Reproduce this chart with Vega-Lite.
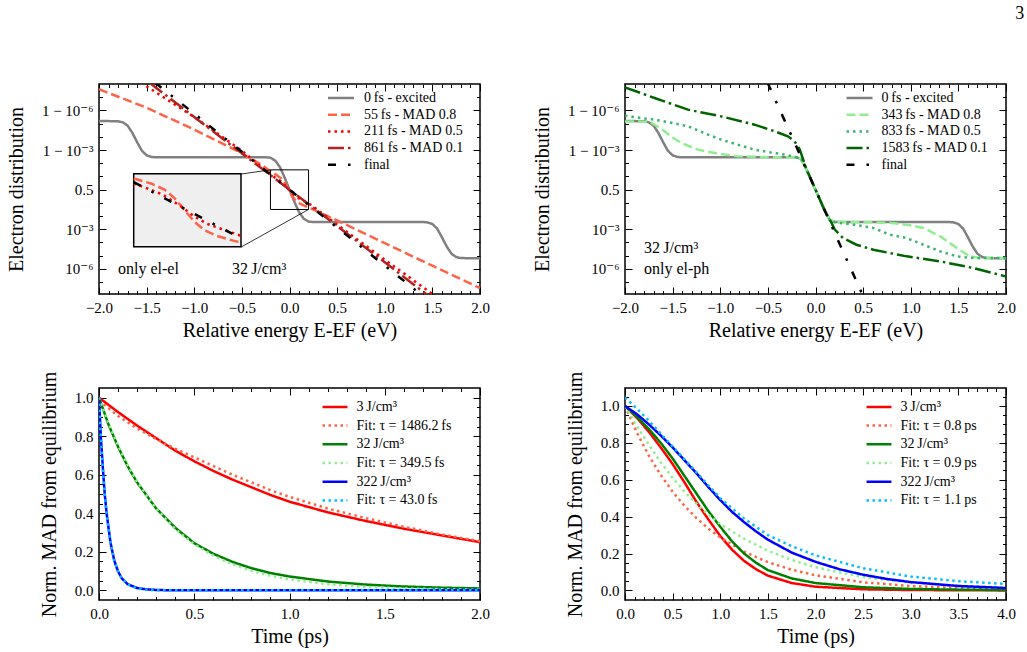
{
  "$schema": "https://vega.github.io/schema/vega-lite/v6.json",
  "padding": {"left": 5, "top": 4, "right": 10, "bottom": 8},
  "title": {"text": "3", "anchor": "end", "frame": "bounds", "font": "Liberation Serif, DejaVu Serif, Times New Roman, serif", "fontSize": 18, "fontWeight": "normal", "color": "#000", "offset": 60, "dx": 8},
  "columns": 2,
  "spacing": {"column": 145, "row": 94},
  "bounds": "flush",
  "resolve": {"scale": {"color": "independent", "strokeDash": "independent"}, "legend": {"color": "independent", "strokeDash": "independent"}},
  "config": {
    "font": "Liberation Serif, DejaVu Serif, Times New Roman, serif",
    "view": {"stroke": "#000", "strokeWidth": 1.5},
    "axis": {"grid": false, "domain": false, "labelFlush": false, "labelFont": "Liberation Serif, DejaVu Serif, Times New Roman, serif", "labelFontSize": 15, "labelColor": "#000", "titleFont": "Liberation Serif, DejaVu Serif, Times New Roman, serif", "titleFontSize": 20, "titleFontWeight": "normal", "titleColor": "#000", "tickColor": "#000", "tickWidth": 1},
    "legend": {"labelFont": "Liberation Serif, DejaVu Serif, Times New Roman, serif", "labelFontSize": 14, "labelColor": "#000", "labelLimit": 400, "padding": 0},
    "text": {"font": "Liberation Serif, DejaVu Serif, Times New Roman, serif"}
  },
  "datasets": {
    "tl": [
      {"s": "0\u2009fs - excited", "x": -2.0, "y": 5.2}, {"s": "0\u2009fs - excited", "x": -1.8, "y": 5.18}, {"s": "0\u2009fs - excited", "x": -1.75, "y": 5.1}, {"s": "0\u2009fs - excited", "x": -1.7, "y": 4.85}, {"s": "0\u2009fs - excited", "x": -1.65, "y": 4.3}, {"s": "0\u2009fs - excited", "x": -1.6, "y": 3.6}, {"s": "0\u2009fs - excited", "x": -1.55, "y": 2.95}, {"s": "0\u2009fs - excited", "x": -1.5, "y": 2.6}, {"s": "0\u2009fs - excited", "x": -1.45, "y": 2.48}, {"s": "0\u2009fs - excited", "x": -1.4, "y": 2.45}, {"s": "0\u2009fs - excited", "x": -0.25, "y": 2.45}, {"s": "0\u2009fs - excited", "x": -0.2, "y": 2.42}, {"s": "0\u2009fs - excited", "x": -0.15, "y": 2.2}, {"s": "0\u2009fs - excited", "x": -0.1, "y": 1.7}, {"s": "0\u2009fs - excited", "x": -0.05, "y": 0.9}, {"s": "0\u2009fs - excited", "x": 0, "y": 0}, {"s": "0\u2009fs - excited", "x": 0.05, "y": -0.9}, {"s": "0\u2009fs - excited", "x": 0.1, "y": -1.7}, {"s": "0\u2009fs - excited", "x": 0.15, "y": -2.2}, {"s": "0\u2009fs - excited", "x": 0.2, "y": -2.42}, {"s": "0\u2009fs - excited", "x": 0.25, "y": -2.45}, {"s": "0\u2009fs - excited", "x": 1.4, "y": -2.45}, {"s": "0\u2009fs - excited", "x": 1.45, "y": -2.48}, {"s": "0\u2009fs - excited", "x": 1.5, "y": -2.6}, {"s": "0\u2009fs - excited", "x": 1.55, "y": -2.95}, {"s": "0\u2009fs - excited", "x": 1.6, "y": -3.6}, {"s": "0\u2009fs - excited", "x": 1.65, "y": -4.3}, {"s": "0\u2009fs - excited", "x": 1.7, "y": -4.85}, {"s": "0\u2009fs - excited", "x": 1.75, "y": -5.1}, {"s": "0\u2009fs - excited", "x": 1.8, "y": -5.18}, {"s": "0\u2009fs - excited", "x": 2.0, "y": -5.2},
      {"s": "55\u2009fs - MAD 0.8", "x": -2.0, "y": 7.6}, {"s": "55\u2009fs - MAD 0.8", "x": -1.5, "y": 6.2}, {"s": "55\u2009fs - MAD 0.8", "x": -1.0, "y": 4.55}, {"s": "55\u2009fs - MAD 0.8", "x": -0.5, "y": 2.75}, {"s": "55\u2009fs - MAD 0.8", "x": -0.3, "y": 1.9}, {"s": "55\u2009fs - MAD 0.8", "x": -0.2, "y": 1.4}, {"s": "55\u2009fs - MAD 0.8", "x": -0.133, "y": 1.09}, {"s": "55\u2009fs - MAD 0.8", "x": -0.084, "y": 0.84}, {"s": "55\u2009fs - MAD 0.8", "x": -0.048, "y": 0.5}, {"s": "55\u2009fs - MAD 0.8", "x": -0.011, "y": 0.01}, {"s": "55\u2009fs - MAD 0.8", "x": 0.026, "y": -0.47}, {"s": "55\u2009fs - MAD 0.8", "x": 0.062, "y": -0.81}, {"s": "55\u2009fs - MAD 0.8", "x": 0.111, "y": -1.06}, {"s": "55\u2009fs - MAD 0.8", "x": 0.16, "y": -1.22}, {"s": "55\u2009fs - MAD 0.8", "x": 0.2, "y": -1.35}, {"s": "55\u2009fs - MAD 0.8", "x": 0.3, "y": -1.67}, {"s": "55\u2009fs - MAD 0.8", "x": 0.5, "y": -2.33}, {"s": "55\u2009fs - MAD 0.8", "x": 1.0, "y": -4.05}, {"s": "55\u2009fs - MAD 0.8", "x": 1.5, "y": -5.76}, {"s": "55\u2009fs - MAD 0.8", "x": 2.0, "y": -7.45},
      {"s": "211\u2009fs - MAD 0.5", "x": -1.56, "y": 8.1}, {"s": "211\u2009fs - MAD 0.5", "x": -1.0, "y": 5.5}, {"s": "211\u2009fs - MAD 0.5", "x": -0.5, "y": 2.95}, {"s": "211\u2009fs - MAD 0.5", "x": -0.3, "y": 1.75}, {"s": "211\u2009fs - MAD 0.5", "x": -0.19, "y": 1.08}, {"s": "211\u2009fs - MAD 0.5", "x": -0.09, "y": 0.63}, {"s": "211\u2009fs - MAD 0.5", "x": -0.023, "y": 0.15}, {"s": "211\u2009fs - MAD 0.5", "x": 0.026, "y": -0.26}, {"s": "211\u2009fs - MAD 0.5", "x": 0.074, "y": -0.56}, {"s": "211\u2009fs - MAD 0.5", "x": 0.129, "y": -0.78}, {"s": "211\u2009fs - MAD 0.5", "x": 0.2, "y": -1.04}, {"s": "211\u2009fs - MAD 0.5", "x": 0.3, "y": -1.55}, {"s": "211\u2009fs - MAD 0.5", "x": 0.5, "y": -2.65}, {"s": "211\u2009fs - MAD 0.5", "x": 1.0, "y": -5.3}, {"s": "211\u2009fs - MAD 0.5", "x": 1.54, "y": -8.1},
      {"s": "861\u2009fs - MAD 0.1", "x": -1.47, "y": 8.1}, {"s": "861\u2009fs - MAD 0.1", "x": -1.0, "y": 5.5}, {"s": "861\u2009fs - MAD 0.1", "x": -0.5, "y": 2.75}, {"s": "861\u2009fs - MAD 0.1", "x": 0, "y": 0}, {"s": "861\u2009fs - MAD 0.1", "x": 0.5, "y": -2.75}, {"s": "861\u2009fs - MAD 0.1", "x": 1.0, "y": -5.5}, {"s": "861\u2009fs - MAD 0.1", "x": 1.47, "y": -8.1},
      {"s": "final", "x": -1.41, "y": 8.1}, {"s": "final", "x": -1.0, "y": 5.75}, {"s": "final", "x": -0.5, "y": 2.87}, {"s": "final", "x": 0, "y": 0}, {"s": "final", "x": 0.5, "y": -2.87}, {"s": "final", "x": 1.0, "y": -5.75}, {"s": "final", "x": 1.41, "y": -8.1}
    ],
    "inset": [
      {"s": "55\u2009fs - MAD 0.8", "x": -0.2, "y": 1.3}, {"s": "55\u2009fs - MAD 0.8", "x": -0.133, "y": 1.09}, {"s": "55\u2009fs - MAD 0.8", "x": -0.084, "y": 0.84}, {"s": "55\u2009fs - MAD 0.8", "x": -0.048, "y": 0.5}, {"s": "55\u2009fs - MAD 0.8", "x": -0.011, "y": 0.01}, {"s": "55\u2009fs - MAD 0.8", "x": 0.026, "y": -0.47}, {"s": "55\u2009fs - MAD 0.8", "x": 0.062, "y": -0.81}, {"s": "55\u2009fs - MAD 0.8", "x": 0.111, "y": -1.06}, {"s": "55\u2009fs - MAD 0.8", "x": 0.16, "y": -1.22}, {"s": "55\u2009fs - MAD 0.8", "x": 0.2, "y": -1.33},
      {"s": "211\u2009fs - MAD 0.5", "x": -0.2, "y": 1.1}, {"s": "211\u2009fs - MAD 0.5", "x": -0.15, "y": 0.9}, {"s": "211\u2009fs - MAD 0.5", "x": -0.09, "y": 0.63}, {"s": "211\u2009fs - MAD 0.5", "x": -0.023, "y": 0.15}, {"s": "211\u2009fs - MAD 0.5", "x": 0.026, "y": -0.26}, {"s": "211\u2009fs - MAD 0.5", "x": 0.074, "y": -0.56}, {"s": "211\u2009fs - MAD 0.5", "x": 0.129, "y": -0.78}, {"s": "211\u2009fs - MAD 0.5", "x": 0.2, "y": -1.05},
      {"s": "final", "x": -0.2, "y": 1.15}, {"s": "final", "x": 0, "y": 0}, {"s": "final", "x": 0.2, "y": -1.16}
    ],
    "tr": [
      {"s": "0\u2009fs - excited", "x": -2.0, "y": 5.2}, {"s": "0\u2009fs - excited", "x": -1.8, "y": 5.18}, {"s": "0\u2009fs - excited", "x": -1.75, "y": 5.1}, {"s": "0\u2009fs - excited", "x": -1.7, "y": 4.85}, {"s": "0\u2009fs - excited", "x": -1.65, "y": 4.3}, {"s": "0\u2009fs - excited", "x": -1.6, "y": 3.6}, {"s": "0\u2009fs - excited", "x": -1.55, "y": 2.95}, {"s": "0\u2009fs - excited", "x": -1.5, "y": 2.6}, {"s": "0\u2009fs - excited", "x": -1.45, "y": 2.48}, {"s": "0\u2009fs - excited", "x": -1.4, "y": 2.45}, {"s": "0\u2009fs - excited", "x": -0.2, "y": 2.45}, {"s": "0\u2009fs - excited", "x": -0.15, "y": 2.3}, {"s": "0\u2009fs - excited", "x": -0.1, "y": 1.6}, {"s": "0\u2009fs - excited", "x": 0, "y": 0}, {"s": "0\u2009fs - excited", "x": 0.1, "y": -1.6}, {"s": "0\u2009fs - excited", "x": 0.15, "y": -2.3}, {"s": "0\u2009fs - excited", "x": 0.2, "y": -2.45}, {"s": "0\u2009fs - excited", "x": 1.4, "y": -2.45}, {"s": "0\u2009fs - excited", "x": 1.45, "y": -2.48}, {"s": "0\u2009fs - excited", "x": 1.5, "y": -2.6}, {"s": "0\u2009fs - excited", "x": 1.55, "y": -2.95}, {"s": "0\u2009fs - excited", "x": 1.6, "y": -3.6}, {"s": "0\u2009fs - excited", "x": 1.65, "y": -4.3}, {"s": "0\u2009fs - excited", "x": 1.7, "y": -4.85}, {"s": "0\u2009fs - excited", "x": 1.75, "y": -5.1}, {"s": "0\u2009fs - excited", "x": 1.8, "y": -5.18}, {"s": "0\u2009fs - excited", "x": 2.0, "y": -5.2},
      {"s": "343\u2009fs - MAD 0.8", "x": -2.0, "y": 5.17}, {"s": "343\u2009fs - MAD 0.8", "x": -1.8, "y": 5.15}, {"s": "343\u2009fs - MAD 0.8", "x": -1.72, "y": 5.05}, {"s": "343\u2009fs - MAD 0.8", "x": -1.65, "y": 4.75}, {"s": "343\u2009fs - MAD 0.8", "x": -1.586, "y": 4.42}, {"s": "343\u2009fs - MAD 0.8", "x": -1.5, "y": 3.95}, {"s": "343\u2009fs - MAD 0.8", "x": -1.41, "y": 3.53}, {"s": "343\u2009fs - MAD 0.8", "x": -1.235, "y": 3.03}, {"s": "343\u2009fs - MAD 0.8", "x": -1.06, "y": 2.77}, {"s": "343\u2009fs - MAD 0.8", "x": -0.82, "y": 2.52}, {"s": "343\u2009fs - MAD 0.8", "x": -0.5, "y": 2.46}, {"s": "343\u2009fs - MAD 0.8", "x": -0.2, "y": 2.45}, {"s": "343\u2009fs - MAD 0.8", "x": -0.15, "y": 2.3}, {"s": "343\u2009fs - MAD 0.8", "x": -0.1, "y": 1.6}, {"s": "343\u2009fs - MAD 0.8", "x": 0, "y": 0}, {"s": "343\u2009fs - MAD 0.8", "x": 0.1, "y": -1.6}, {"s": "343\u2009fs - MAD 0.8", "x": 0.15, "y": -2.3}, {"s": "343\u2009fs - MAD 0.8", "x": 0.2, "y": -2.45}, {"s": "343\u2009fs - MAD 0.8", "x": 0.6, "y": -2.47}, {"s": "343\u2009fs - MAD 0.8", "x": 0.8, "y": -2.52}, {"s": "343\u2009fs - MAD 0.8", "x": 0.958, "y": -2.65}, {"s": "343\u2009fs - MAD 0.8", "x": 1.134, "y": -2.9}, {"s": "343\u2009fs - MAD 0.8", "x": 1.31, "y": -3.54}, {"s": "343\u2009fs - MAD 0.8", "x": 1.484, "y": -4.42}, {"s": "343\u2009fs - MAD 0.8", "x": 1.62, "y": -5.05}, {"s": "343\u2009fs - MAD 0.8", "x": 1.73, "y": -5.18}, {"s": "343\u2009fs - MAD 0.8", "x": 2.0, "y": -5.18},
      {"s": "833\u2009fs - MAD 0.5", "x": -2.0, "y": 5.6}, {"s": "833\u2009fs - MAD 0.5", "x": -1.83, "y": 5.42}, {"s": "833\u2009fs - MAD 0.5", "x": -1.69, "y": 5.3}, {"s": "833\u2009fs - MAD 0.5", "x": -1.5, "y": 5.05}, {"s": "833\u2009fs - MAD 0.5", "x": -1.34, "y": 4.8}, {"s": "833\u2009fs - MAD 0.5", "x": -1.13, "y": 4.17}, {"s": "833\u2009fs - MAD 0.5", "x": -0.99, "y": 3.79}, {"s": "833\u2009fs - MAD 0.5", "x": -0.82, "y": 3.41}, {"s": "833\u2009fs - MAD 0.5", "x": -0.64, "y": 3.03}, {"s": "833\u2009fs - MAD 0.5", "x": -0.5, "y": 2.85}, {"s": "833\u2009fs - MAD 0.5", "x": -0.32, "y": 2.65}, {"s": "833\u2009fs - MAD 0.5", "x": -0.2, "y": 2.45}, {"s": "833\u2009fs - MAD 0.5", "x": -0.15, "y": 2.3}, {"s": "833\u2009fs - MAD 0.5", "x": -0.1, "y": 1.6}, {"s": "833\u2009fs - MAD 0.5", "x": 0, "y": 0}, {"s": "833\u2009fs - MAD 0.5", "x": 0.1, "y": -1.6}, {"s": "833\u2009fs - MAD 0.5", "x": 0.15, "y": -2.3}, {"s": "833\u2009fs - MAD 0.5", "x": 0.2, "y": -2.45}, {"s": "833\u2009fs - MAD 0.5", "x": 0.256, "y": -2.53}, {"s": "833\u2009fs - MAD 0.5", "x": 0.4, "y": -2.65}, {"s": "833\u2009fs - MAD 0.5", "x": 0.607, "y": -2.9}, {"s": "833\u2009fs - MAD 0.5", "x": 0.782, "y": -3.41}, {"s": "833\u2009fs - MAD 0.5", "x": 0.958, "y": -3.67}, {"s": "833\u2009fs - MAD 0.5", "x": 1.134, "y": -4.17}, {"s": "833\u2009fs - MAD 0.5", "x": 1.31, "y": -4.67}, {"s": "833\u2009fs - MAD 0.5", "x": 1.484, "y": -5.05}, {"s": "833\u2009fs - MAD 0.5", "x": 1.66, "y": -5.18}, {"s": "833\u2009fs - MAD 0.5", "x": 2.0, "y": -5.18},
      {"s": "1583\u2009fs - MAD 0.1", "x": -2.0, "y": 7.75}, {"s": "1583\u2009fs - MAD 0.1", "x": -1.69, "y": 6.94}, {"s": "1583\u2009fs - MAD 0.1", "x": -1.34, "y": 6.06}, {"s": "1583\u2009fs - MAD 0.1", "x": -0.99, "y": 5.55}, {"s": "1583\u2009fs - MAD 0.1", "x": -0.64, "y": 4.92}, {"s": "1583\u2009fs - MAD 0.1", "x": -0.43, "y": 4.42}, {"s": "1583\u2009fs - MAD 0.1", "x": -0.29, "y": 4.04}, {"s": "1583\u2009fs - MAD 0.1", "x": -0.22, "y": 3.66}, {"s": "1583\u2009fs - MAD 0.1", "x": -0.165, "y": 3.03}, {"s": "1583\u2009fs - MAD 0.1", "x": -0.1, "y": 1.65}, {"s": "1583\u2009fs - MAD 0.1", "x": 0, "y": 0}, {"s": "1583\u2009fs - MAD 0.1", "x": 0.1, "y": -1.65}, {"s": "1583\u2009fs - MAD 0.1", "x": 0.168, "y": -2.5}, {"s": "1583\u2009fs - MAD 0.1", "x": 0.2, "y": -3.0}, {"s": "1583\u2009fs - MAD 0.1", "x": 0.29, "y": -3.67}, {"s": "1583\u2009fs - MAD 0.1", "x": 0.43, "y": -4.17}, {"s": "1583\u2009fs - MAD 0.1", "x": 0.607, "y": -4.55}, {"s": "1583\u2009fs - MAD 0.1", "x": 0.958, "y": -5.05}, {"s": "1583\u2009fs - MAD 0.1", "x": 1.31, "y": -5.43}, {"s": "1583\u2009fs - MAD 0.1", "x": 1.66, "y": -5.94}, {"s": "1583\u2009fs - MAD 0.1", "x": 2.0, "y": -6.57},
      {"s": "final", "x": -0.503, "y": 8.1}, {"s": "final", "x": -0.25, "y": 4.05}, {"s": "final", "x": 0, "y": 0}, {"s": "final", "x": 0.25, "y": -4.05}, {"s": "final", "x": 0.503, "y": -8.1}
    ],
    "bl": [
      {"s": "3\u2009J/cm³", "x": 0, "y": 1.0}, {"s": "3\u2009J/cm³", "x": 0.1, "y": 0.925}, {"s": "3\u2009J/cm³", "x": 0.2, "y": 0.855}, {"s": "3\u2009J/cm³", "x": 0.3, "y": 0.79}, {"s": "3\u2009J/cm³", "x": 0.4, "y": 0.725}, {"s": "3\u2009J/cm³", "x": 0.5, "y": 0.67}, {"s": "3\u2009J/cm³", "x": 0.6, "y": 0.62}, {"s": "3\u2009J/cm³", "x": 0.7, "y": 0.575}, {"s": "3\u2009J/cm³", "x": 0.8, "y": 0.535}, {"s": "3\u2009J/cm³", "x": 0.9, "y": 0.495}, {"s": "3\u2009J/cm³", "x": 1.0, "y": 0.46}, {"s": "3\u2009J/cm³", "x": 1.2, "y": 0.405}, {"s": "3\u2009J/cm³", "x": 1.4, "y": 0.36}, {"s": "3\u2009J/cm³", "x": 1.6, "y": 0.32}, {"s": "3\u2009J/cm³", "x": 1.8, "y": 0.285}, {"s": "3\u2009J/cm³", "x": 2.0, "y": 0.25},
      {"s": "Fit: τ = 1486.2\u2009fs", "x": 0, "y": 0.985}, {"s": "Fit: τ = 1486.2\u2009fs", "x": 0.1, "y": 0.905}, {"s": "Fit: τ = 1486.2\u2009fs", "x": 0.2, "y": 0.84}, {"s": "Fit: τ = 1486.2\u2009fs", "x": 0.3, "y": 0.785}, {"s": "Fit: τ = 1486.2\u2009fs", "x": 0.4, "y": 0.735}, {"s": "Fit: τ = 1486.2\u2009fs", "x": 0.5, "y": 0.69}, {"s": "Fit: τ = 1486.2\u2009fs", "x": 0.6, "y": 0.645}, {"s": "Fit: τ = 1486.2\u2009fs", "x": 0.7, "y": 0.6}, {"s": "Fit: τ = 1486.2\u2009fs", "x": 0.8, "y": 0.56}, {"s": "Fit: τ = 1486.2\u2009fs", "x": 0.9, "y": 0.52}, {"s": "Fit: τ = 1486.2\u2009fs", "x": 1.0, "y": 0.485}, {"s": "Fit: τ = 1486.2\u2009fs", "x": 1.2, "y": 0.425}, {"s": "Fit: τ = 1486.2\u2009fs", "x": 1.4, "y": 0.375}, {"s": "Fit: τ = 1486.2\u2009fs", "x": 1.6, "y": 0.33}, {"s": "Fit: τ = 1486.2\u2009fs", "x": 1.8, "y": 0.29}, {"s": "Fit: τ = 1486.2\u2009fs", "x": 2.0, "y": 0.255},
      {"s": "32\u2009J/cm³", "x": 0, "y": 1.0}, {"s": "32\u2009J/cm³", "x": 0.05, "y": 0.86}, {"s": "32\u2009J/cm³", "x": 0.1, "y": 0.745}, {"s": "32\u2009J/cm³", "x": 0.15, "y": 0.645}, {"s": "32\u2009J/cm³", "x": 0.2, "y": 0.56}, {"s": "32\u2009J/cm³", "x": 0.3, "y": 0.425}, {"s": "32\u2009J/cm³", "x": 0.4, "y": 0.325}, {"s": "32\u2009J/cm³", "x": 0.5, "y": 0.245}, {"s": "32\u2009J/cm³", "x": 0.6, "y": 0.19}, {"s": "32\u2009J/cm³", "x": 0.7, "y": 0.148}, {"s": "32\u2009J/cm³", "x": 0.8, "y": 0.115}, {"s": "32\u2009J/cm³", "x": 0.9, "y": 0.09}, {"s": "32\u2009J/cm³", "x": 1.0, "y": 0.072}, {"s": "32\u2009J/cm³", "x": 1.2, "y": 0.046}, {"s": "32\u2009J/cm³", "x": 1.4, "y": 0.03}, {"s": "32\u2009J/cm³", "x": 1.6, "y": 0.02}, {"s": "32\u2009J/cm³", "x": 1.8, "y": 0.014}, {"s": "32\u2009J/cm³", "x": 2.0, "y": 0.01},
      {"s": "Fit: τ = 349.5\u2009fs", "x": 0, "y": 1.0}, {"s": "Fit: τ = 349.5\u2009fs", "x": 0.05, "y": 0.867}, {"s": "Fit: τ = 349.5\u2009fs", "x": 0.1, "y": 0.751}, {"s": "Fit: τ = 349.5\u2009fs", "x": 0.15, "y": 0.651}, {"s": "Fit: τ = 349.5\u2009fs", "x": 0.2, "y": 0.564}, {"s": "Fit: τ = 349.5\u2009fs", "x": 0.3, "y": 0.424}, {"s": "Fit: τ = 349.5\u2009fs", "x": 0.4, "y": 0.318}, {"s": "Fit: τ = 349.5\u2009fs", "x": 0.5, "y": 0.239}, {"s": "Fit: τ = 349.5\u2009fs", "x": 0.6, "y": 0.18}, {"s": "Fit: τ = 349.5\u2009fs", "x": 0.7, "y": 0.135}, {"s": "Fit: τ = 349.5\u2009fs", "x": 0.8, "y": 0.101}, {"s": "Fit: τ = 349.5\u2009fs", "x": 0.9, "y": 0.076}, {"s": "Fit: τ = 349.5\u2009fs", "x": 1.0, "y": 0.057}, {"s": "Fit: τ = 349.5\u2009fs", "x": 1.2, "y": 0.032}, {"s": "Fit: τ = 349.5\u2009fs", "x": 1.4, "y": 0.018}, {"s": "Fit: τ = 349.5\u2009fs", "x": 1.6, "y": 0.01}, {"s": "Fit: τ = 349.5\u2009fs", "x": 1.8, "y": 0.006}, {"s": "Fit: τ = 349.5\u2009fs", "x": 2.0, "y": 0.003},
      {"s": "322\u2009J/cm³", "x": 0, "y": 1.0}, {"s": "322\u2009J/cm³", "x": 0.01, "y": 0.79}, {"s": "322\u2009J/cm³", "x": 0.02, "y": 0.64}, {"s": "322\u2009J/cm³", "x": 0.03, "y": 0.5}, {"s": "322\u2009J/cm³", "x": 0.04, "y": 0.4}, {"s": "322\u2009J/cm³", "x": 0.06, "y": 0.25}, {"s": "322\u2009J/cm³", "x": 0.08, "y": 0.155}, {"s": "322\u2009J/cm³", "x": 0.1, "y": 0.098}, {"s": "322\u2009J/cm³", "x": 0.12, "y": 0.062}, {"s": "322\u2009J/cm³", "x": 0.15, "y": 0.032}, {"s": "322\u2009J/cm³", "x": 0.2, "y": 0.012}, {"s": "322\u2009J/cm³", "x": 0.25, "y": 0.005}, {"s": "322\u2009J/cm³", "x": 0.3, "y": 0.002}, {"s": "322\u2009J/cm³", "x": 0.4, "y": 0.0}, {"s": "322\u2009J/cm³", "x": 2.0, "y": 0.0},
      {"s": "Fit: τ = 43.0\u2009fs", "x": 0, "y": 1.0}, {"s": "Fit: τ = 43.0\u2009fs", "x": 0.01, "y": 0.79}, {"s": "Fit: τ = 43.0\u2009fs", "x": 0.02, "y": 0.628}, {"s": "Fit: τ = 43.0\u2009fs", "x": 0.03, "y": 0.5}, {"s": "Fit: τ = 43.0\u2009fs", "x": 0.04, "y": 0.394}, {"s": "Fit: τ = 43.0\u2009fs", "x": 0.06, "y": 0.248}, {"s": "Fit: τ = 43.0\u2009fs", "x": 0.08, "y": 0.156}, {"s": "Fit: τ = 43.0\u2009fs", "x": 0.1, "y": 0.098}, {"s": "Fit: τ = 43.0\u2009fs", "x": 0.12, "y": 0.061}, {"s": "Fit: τ = 43.0\u2009fs", "x": 0.15, "y": 0.031}, {"s": "Fit: τ = 43.0\u2009fs", "x": 0.2, "y": 0.01}, {"s": "Fit: τ = 43.0\u2009fs", "x": 0.25, "y": 0.003}, {"s": "Fit: τ = 43.0\u2009fs", "x": 0.3, "y": 0.001}, {"s": "Fit: τ = 43.0\u2009fs", "x": 0.4, "y": 0.0}, {"s": "Fit: τ = 43.0\u2009fs", "x": 2.0, "y": 0.0}
    ],
    "br": [
      {"s": "3\u2009J/cm³", "x": 0, "y": 1.0}, {"s": "3\u2009J/cm³", "x": 0.125, "y": 0.935}, {"s": "3\u2009J/cm³", "x": 0.25, "y": 0.86}, {"s": "3\u2009J/cm³", "x": 0.375, "y": 0.775}, {"s": "3\u2009J/cm³", "x": 0.5, "y": 0.685}, {"s": "3\u2009J/cm³", "x": 0.625, "y": 0.585}, {"s": "3\u2009J/cm³", "x": 0.75, "y": 0.48}, {"s": "3\u2009J/cm³", "x": 0.875, "y": 0.385}, {"s": "3\u2009J/cm³", "x": 1.0, "y": 0.295}, {"s": "3\u2009J/cm³", "x": 1.125, "y": 0.22}, {"s": "3\u2009J/cm³", "x": 1.25, "y": 0.16}, {"s": "3\u2009J/cm³", "x": 1.375, "y": 0.115}, {"s": "3\u2009J/cm³", "x": 1.5, "y": 0.08}, {"s": "3\u2009J/cm³", "x": 1.75, "y": 0.04}, {"s": "3\u2009J/cm³", "x": 2.0, "y": 0.02}, {"s": "3\u2009J/cm³", "x": 2.5, "y": 0.006}, {"s": "3\u2009J/cm³", "x": 3.0, "y": 0.002}, {"s": "3\u2009J/cm³", "x": 3.5, "y": 0.001}, {"s": "3\u2009J/cm³", "x": 4.0, "y": 0.0},
      {"s": "Fit: τ = 0.8\u2009ps", "x": 0, "y": 1.0}, {"s": "Fit: τ = 0.8\u2009ps", "x": 0.125, "y": 0.855}, {"s": "Fit: τ = 0.8\u2009ps", "x": 0.25, "y": 0.73}, {"s": "Fit: τ = 0.8\u2009ps", "x": 0.375, "y": 0.626}, {"s": "Fit: τ = 0.8\u2009ps", "x": 0.5, "y": 0.535}, {"s": "Fit: τ = 0.8\u2009ps", "x": 0.625, "y": 0.458}, {"s": "Fit: τ = 0.8\u2009ps", "x": 0.75, "y": 0.392}, {"s": "Fit: τ = 0.8\u2009ps", "x": 0.875, "y": 0.335}, {"s": "Fit: τ = 0.8\u2009ps", "x": 1.0, "y": 0.287}, {"s": "Fit: τ = 0.8\u2009ps", "x": 1.25, "y": 0.21}, {"s": "Fit: τ = 0.8\u2009ps", "x": 1.5, "y": 0.153}, {"s": "Fit: τ = 0.8\u2009ps", "x": 1.75, "y": 0.112}, {"s": "Fit: τ = 0.8\u2009ps", "x": 2.0, "y": 0.082}, {"s": "Fit: τ = 0.8\u2009ps", "x": 2.5, "y": 0.044}, {"s": "Fit: τ = 0.8\u2009ps", "x": 3.0, "y": 0.024}, {"s": "Fit: τ = 0.8\u2009ps", "x": 3.5, "y": 0.013}, {"s": "Fit: τ = 0.8\u2009ps", "x": 4.0, "y": 0.007},
      {"s": "32\u2009J/cm³", "x": 0, "y": 1.0}, {"s": "32\u2009J/cm³", "x": 0.125, "y": 0.94}, {"s": "32\u2009J/cm³", "x": 0.25, "y": 0.875}, {"s": "32\u2009J/cm³", "x": 0.375, "y": 0.8}, {"s": "32\u2009J/cm³", "x": 0.5, "y": 0.715}, {"s": "32\u2009J/cm³", "x": 0.625, "y": 0.62}, {"s": "32\u2009J/cm³", "x": 0.75, "y": 0.525}, {"s": "32\u2009J/cm³", "x": 0.875, "y": 0.43}, {"s": "32\u2009J/cm³", "x": 1.0, "y": 0.345}, {"s": "32\u2009J/cm³", "x": 1.125, "y": 0.265}, {"s": "32\u2009J/cm³", "x": 1.25, "y": 0.2}, {"s": "32\u2009J/cm³", "x": 1.375, "y": 0.15}, {"s": "32\u2009J/cm³", "x": 1.5, "y": 0.11}, {"s": "32\u2009J/cm³", "x": 1.75, "y": 0.065}, {"s": "32\u2009J/cm³", "x": 2.0, "y": 0.04}, {"s": "32\u2009J/cm³", "x": 2.5, "y": 0.017}, {"s": "32\u2009J/cm³", "x": 3.0, "y": 0.008}, {"s": "32\u2009J/cm³", "x": 3.5, "y": 0.004}, {"s": "32\u2009J/cm³", "x": 4.0, "y": 0.002},
      {"s": "Fit: τ = 0.9\u2009ps", "x": 0, "y": 1.0}, {"s": "Fit: τ = 0.9\u2009ps", "x": 0.125, "y": 0.89}, {"s": "Fit: τ = 0.9\u2009ps", "x": 0.25, "y": 0.79}, {"s": "Fit: τ = 0.9\u2009ps", "x": 0.375, "y": 0.695}, {"s": "Fit: τ = 0.9\u2009ps", "x": 0.5, "y": 0.61}, {"s": "Fit: τ = 0.9\u2009ps", "x": 0.625, "y": 0.535}, {"s": "Fit: τ = 0.9\u2009ps", "x": 0.75, "y": 0.47}, {"s": "Fit: τ = 0.9\u2009ps", "x": 0.875, "y": 0.41}, {"s": "Fit: τ = 0.9\u2009ps", "x": 1.0, "y": 0.36}, {"s": "Fit: τ = 0.9\u2009ps", "x": 1.25, "y": 0.28}, {"s": "Fit: τ = 0.9\u2009ps", "x": 1.5, "y": 0.215}, {"s": "Fit: τ = 0.9\u2009ps", "x": 1.75, "y": 0.165}, {"s": "Fit: τ = 0.9\u2009ps", "x": 2.0, "y": 0.125}, {"s": "Fit: τ = 0.9\u2009ps", "x": 2.5, "y": 0.072}, {"s": "Fit: τ = 0.9\u2009ps", "x": 3.0, "y": 0.042}, {"s": "Fit: τ = 0.9\u2009ps", "x": 3.5, "y": 0.024}, {"s": "Fit: τ = 0.9\u2009ps", "x": 4.0, "y": 0.014},
      {"s": "322\u2009J/cm³", "x": 0, "y": 1.0}, {"s": "322\u2009J/cm³", "x": 0.125, "y": 0.955}, {"s": "322\u2009J/cm³", "x": 0.25, "y": 0.9}, {"s": "322\u2009J/cm³", "x": 0.375, "y": 0.84}, {"s": "322\u2009J/cm³", "x": 0.5, "y": 0.775}, {"s": "322\u2009J/cm³", "x": 0.625, "y": 0.705}, {"s": "322\u2009J/cm³", "x": 0.75, "y": 0.635}, {"s": "322\u2009J/cm³", "x": 0.875, "y": 0.56}, {"s": "322\u2009J/cm³", "x": 1.0, "y": 0.49}, {"s": "322\u2009J/cm³", "x": 1.125, "y": 0.425}, {"s": "322\u2009J/cm³", "x": 1.25, "y": 0.37}, {"s": "322\u2009J/cm³", "x": 1.375, "y": 0.32}, {"s": "322\u2009J/cm³", "x": 1.5, "y": 0.275}, {"s": "322\u2009J/cm³", "x": 1.75, "y": 0.205}, {"s": "322\u2009J/cm³", "x": 2.0, "y": 0.155}, {"s": "322\u2009J/cm³", "x": 2.25, "y": 0.115}, {"s": "322\u2009J/cm³", "x": 2.5, "y": 0.085}, {"s": "322\u2009J/cm³", "x": 2.75, "y": 0.062}, {"s": "322\u2009J/cm³", "x": 3.0, "y": 0.045}, {"s": "322\u2009J/cm³", "x": 3.5, "y": 0.024}, {"s": "322\u2009J/cm³", "x": 4.0, "y": 0.013},
      {"s": "Fit: τ = 1.1\u2009ps", "x": 0, "y": 1.045}, {"s": "Fit: τ = 1.1\u2009ps", "x": 0.125, "y": 0.985}, {"s": "Fit: τ = 1.1\u2009ps", "x": 0.25, "y": 0.92}, {"s": "Fit: τ = 1.1\u2009ps", "x": 0.375, "y": 0.85}, {"s": "Fit: τ = 1.1\u2009ps", "x": 0.5, "y": 0.78}, {"s": "Fit: τ = 1.1\u2009ps", "x": 0.625, "y": 0.71}, {"s": "Fit: τ = 1.1\u2009ps", "x": 0.75, "y": 0.64}, {"s": "Fit: τ = 1.1\u2009ps", "x": 0.875, "y": 0.57}, {"s": "Fit: τ = 1.1\u2009ps", "x": 1.0, "y": 0.5}, {"s": "Fit: τ = 1.1\u2009ps", "x": 1.25, "y": 0.39}, {"s": "Fit: τ = 1.1\u2009ps", "x": 1.5, "y": 0.3}, {"s": "Fit: τ = 1.1\u2009ps", "x": 1.75, "y": 0.24}, {"s": "Fit: τ = 1.1\u2009ps", "x": 2.0, "y": 0.19}, {"s": "Fit: τ = 1.1\u2009ps", "x": 2.5, "y": 0.12}, {"s": "Fit: τ = 1.1\u2009ps", "x": 3.0, "y": 0.075}, {"s": "Fit: τ = 1.1\u2009ps", "x": 3.5, "y": 0.05}, {"s": "Fit: τ = 1.1\u2009ps", "x": 4.0, "y": 0.035}
    ]
  },
  "concat": [
    {
      "width": 381, "height": 210,
      "layer": [
        {
          "layer": [
            {
              "data": {"name": "tl"},
              "mark": {"type": "line", "clip": true, "strokeWidth": 2.5},
              "encoding": {
                "x": {"field": "x", "type": "quantitative", "scale": {"domain": [-2, 2], "nice": false, "zero": false}, "axis": {"orient": "bottom", "title": "Relative energy E-EF (eV)", "values": [-2, -1.5, -1, -0.5, 0, 0.5, 1, 1.5, 2], "format": ".1f", "ticks": false, "labelPadding": 6, "titlePadding": 5}},
                "y": {"field": "y", "type": "quantitative", "scale": {"domain": [-7.9, 8], "nice": false, "zero": false}, "axis": {"orient": "left", "title": "Electron distribution", "values": [-6, -3, 0, 3, 6], "labelExpr": "datum.value == 6 ? '1 − 10⁻⁶' : datum.value == 3 ? '1 − 10⁻³' : datum.value == 0 ? '0.5' : datum.value == -3 ? '10⁻³' : '10⁻⁶'", "ticks": false, "labelPadding": 6, "titlePadding": 15}},
                "color": {"field": "s", "type": "nominal", "sort": null, "scale": {"domain": ["0\u2009fs - excited", "55\u2009fs - MAD 0.8", "211\u2009fs - MAD 0.5", "861\u2009fs - MAD 0.1", "final"], "range": ["#808080", "#ff6347", "#ff0000", "#b22222", "#000000"]}, "legend": {"orient": "none", "legendX": 234, "legendY": 6, "title": null, "symbolType": "M-2,0H2", "symbolSize": 169, "symbolStrokeWidth": 2.5, "labelOffset": 15, "rowPadding": 1.7}},
                "strokeDash": {"field": "s", "type": "nominal", "sort": null, "scale": {"domain": ["0\u2009fs - excited", "55\u2009fs - MAD 0.8", "211\u2009fs - MAD 0.5", "861\u2009fs - MAD 0.1", "final"], "range": [[1, 0], [9, 4], [2.5, 4], [16, 4, 2.5, 4], [8, 12, 2.5, 12]]}, "legend": {"orient": "none", "legendX": 234, "legendY": 6, "title": null, "symbolType": "M-2,0H2", "symbolSize": 169, "symbolStrokeWidth": 2.5, "labelOffset": 15, "rowPadding": 1.7}}
              }
            },
            {
              "data": {"values": [{"x": -0.2, "x2": 0.2, "y": -1.5, "y2": 1.5}]},
              "mark": {"type": "rect", "fillOpacity": 0, "stroke": "#000", "strokeWidth": 1},
              "encoding": {
                "x": {"field": "x", "type": "quantitative", "scale": {"domain": [-2, 2], "nice": false, "zero": false}, "axis": null},
                "x2": {"field": "x2"},
                "y": {"field": "y", "type": "quantitative", "scale": {"domain": [-7.9, 8], "nice": false, "zero": false}, "axis": null},
                "y2": {"field": "y2"}
              }
            },
            {
              "data": {"values": [{"x": -0.509, "y": 1.18, "x2": -0.2, "y2": 1.5}, {"x": -0.509, "y": -4.35, "x2": 0.2, "y2": -1.5}]},
              "mark": {"type": "rule", "stroke": "#000", "strokeWidth": 0.8},
              "encoding": {
                "x": {"field": "x", "type": "quantitative", "scale": {"domain": [-2, 2], "nice": false, "zero": false}, "axis": null},
                "x2": {"field": "x2"},
                "y": {"field": "y", "type": "quantitative", "scale": {"domain": [-7.9, 8], "nice": false, "zero": false}, "axis": null},
                "y2": {"field": "y2"}
              }
            },
            {
              "data": {"values": [{"x": -1.8, "y": -6.0, "t": "only el-el"}, {"x": -0.604, "y": -6.0, "t": "32\u2009J/cm³"}]},
              "mark": {"type": "text", "align": "left", "baseline": "middle", "fontSize": 16, "color": "#000"},
              "encoding": {
                "x": {"field": "x", "type": "quantitative", "scale": {"domain": [-2, 2], "nice": false, "zero": false}, "axis": null},
                "y": {"field": "y", "type": "quantitative", "scale": {"domain": [-7.9, 8], "nice": false, "zero": false}, "axis": null},
                "text": {"field": "t"}
              }
            },
            {
              "data": {"values": [{"x": 0, "y": 0}]},
              "mark": {"type": "point", "opacity": 0},
              "encoding": {
                "x": {"field": "x", "type": "quantitative", "scale": {"domain": [-2, 2], "nice": false, "zero": false}, "axis": {"orient": "bottom", "values": [-2, -1.5, -1, -0.5, 0, 0.5, 1, 1.5, 2], "labels": false, "title": null, "tickSize": -7}},
                "y": {"field": "y", "type": "quantitative", "scale": {"domain": [-7.9, 8], "nice": false, "zero": false}, "axis": {"orient": "left", "values": [-6, -3, 0, 3, 6], "labels": false, "title": null, "tickSize": -7}}
              }
            },
            {
              "data": {"values": [{"x": 0, "y": 0}]},
              "mark": {"type": "point", "opacity": 0},
              "encoding": {
                "x": {"field": "x", "type": "quantitative", "scale": {"domain": [-2, 2], "nice": false, "zero": false}, "axis": {"orient": "top", "values": [-2, -1.5, -1, -0.5, 0, 0.5, 1, 1.5, 2], "labels": false, "title": null, "tickSize": -7}},
                "y": {"field": "y", "type": "quantitative", "scale": {"domain": [-7.9, 8], "nice": false, "zero": false}, "axis": {"orient": "right", "values": [-6, -3, 0, 3, 6], "labels": false, "title": null, "tickSize": -7}}
              }
            },
            {
              "data": {"values": [{"x": 0, "y": 0}]},
              "mark": {"type": "point", "opacity": 0},
              "encoding": {
                "x": {"field": "x", "type": "quantitative", "scale": {"domain": [-2, 2], "nice": false, "zero": false}, "axis": {"orient": "bottom", "values": [-1.9, -1.8, -1.7, -1.6, -1.4, -1.3, -1.2, -1.1, -0.9, -0.8, -0.7, -0.6, -0.4, -0.3, -0.2, -0.1, 0.1, 0.2, 0.3, 0.4, 0.6, 0.7, 0.8, 0.9, 1.1, 1.2, 1.3, 1.4, 1.6, 1.7, 1.8, 1.9], "labels": false, "title": null, "tickSize": -3.5}},
                "y": {"field": "y", "type": "quantitative", "scale": {"domain": [-7.9, 8], "nice": false, "zero": false}, "axis": {"orient": "left", "values": [-7, -5, -4, -2, -1, 1, 2, 4, 5, 7], "labels": false, "title": null, "tickSize": -3.5}}
              }
            },
            {
              "data": {"values": [{"x": 0, "y": 0}]},
              "mark": {"type": "point", "opacity": 0},
              "encoding": {
                "x": {"field": "x", "type": "quantitative", "scale": {"domain": [-2, 2], "nice": false, "zero": false}, "axis": {"orient": "top", "values": [-1.9, -1.8, -1.7, -1.6, -1.4, -1.3, -1.2, -1.1, -0.9, -0.8, -0.7, -0.6, -0.4, -0.3, -0.2, -0.1, 0.1, 0.2, 0.3, 0.4, 0.6, 0.7, 0.8, 0.9, 1.1, 1.2, 1.3, 1.4, 1.6, 1.7, 1.8, 1.9], "labels": false, "title": null, "tickSize": -3.5}},
                "y": {"field": "y", "type": "quantitative", "scale": {"domain": [-7.9, 8], "nice": false, "zero": false}, "axis": {"orient": "right", "values": [-7, -5, -4, -2, -1, 1, 2, 4, 5, 7], "labels": false, "title": null, "tickSize": -3.5}}
              }
            }
          ],
          "resolve": {"axis": {"x": "independent", "y": "independent"}}
        },
        {
          "layer": [
            {
              "data": {"values": [{"x": -0.2, "x2": 0.2, "y": -1.5, "y2": 1.5}]},
              "mark": {"type": "rect", "fill": "#efefef", "stroke": "#000", "strokeWidth": 1.5},
              "encoding": {
                "x": {"field": "x", "type": "quantitative", "scale": {"domain": [-0.2, 0.2], "range": [34.7, 142], "nice": false, "zero": false}, "axis": null},
                "x2": {"field": "x2"},
                "y": {"field": "y", "type": "quantitative", "scale": {"domain": [-1.5, 1.5], "range": [162.7, 89.7], "nice": false, "zero": false}, "axis": null},
                "y2": {"field": "y2"}
              }
            },
            {
              "data": {"name": "inset"},
              "mark": {"type": "line", "strokeWidth": 2.5},
              "encoding": {
                "x": {"field": "x", "type": "quantitative", "scale": {"domain": [-0.2, 0.2], "range": [34.7, 142], "nice": false, "zero": false}, "axis": null},
                "y": {"field": "y", "type": "quantitative", "scale": {"domain": [-1.5, 1.5], "range": [162.7, 89.7], "nice": false, "zero": false}, "axis": null},
                "color": {"field": "s", "type": "nominal", "sort": null, "legend": null},
                "strokeDash": {"field": "s", "type": "nominal", "sort": null, "legend": null}
              }
            }
          ]
        }
      ],
      "resolve": {"scale": {"x": "independent", "y": "independent"}}
    },
    {
      "width": 381, "height": 210,
      "layer": [
        {
          "data": {"name": "tr"},
          "mark": {"type": "line", "clip": true, "strokeWidth": 2.5},
          "encoding": {
            "x": {"field": "x", "type": "quantitative", "scale": {"domain": [-2, 2], "nice": false, "zero": false}, "axis": {"orient": "bottom", "title": "Relative energy E-EF (eV)", "values": [-2, -1.5, -1, -0.5, 0, 0.5, 1, 1.5, 2], "format": ".1f", "ticks": false, "labelPadding": 6, "titlePadding": 5}},
            "y": {"field": "y", "type": "quantitative", "scale": {"domain": [-7.9, 8], "nice": false, "zero": false}, "axis": {"orient": "left", "title": "Electron distribution", "values": [-6, -3, 0, 3, 6], "labelExpr": "datum.value == 6 ? '1 − 10⁻⁶' : datum.value == 3 ? '1 − 10⁻³' : datum.value == 0 ? '0.5' : datum.value == -3 ? '10⁻³' : '10⁻⁶'", "ticks": false, "labelPadding": 6, "titlePadding": 15}},
            "color": {"field": "s", "type": "nominal", "sort": null, "scale": {"domain": ["0\u2009fs - excited", "343\u2009fs - MAD 0.8", "833\u2009fs - MAD 0.5", "1583\u2009fs - MAD 0.1", "final"], "range": ["#808080", "#90ee90", "#3cb371", "#006400", "#000000"]}, "legend": {"orient": "none", "legendX": 226.5, "legendY": 6, "title": null, "symbolType": "M-2,0H2", "symbolSize": 169, "symbolStrokeWidth": 2.5, "labelOffset": 14, "rowPadding": 1.7}},
            "strokeDash": {"field": "s", "type": "nominal", "sort": null, "scale": {"domain": ["0\u2009fs - excited", "343\u2009fs - MAD 0.8", "833\u2009fs - MAD 0.5", "1583\u2009fs - MAD 0.1", "final"], "range": [[1, 0], [9, 4], [2.5, 4], [16, 4, 2.5, 4], [8, 12, 2.5, 12]]}, "legend": {"orient": "none", "legendX": 226.5, "legendY": 6, "title": null, "symbolType": "M-2,0H2", "symbolSize": 169, "symbolStrokeWidth": 2.5, "labelOffset": 14, "rowPadding": 1.7}}
          }
        },
        {
          "data": {"values": [{"x": -1.8, "y": -4.4, "t": "32\u2009J/cm³"}, {"x": -1.8, "y": -6.0, "t": "only el-ph"}]},
          "mark": {"type": "text", "align": "left", "baseline": "middle", "fontSize": 16, "color": "#000"},
          "encoding": {
            "x": {"field": "x", "type": "quantitative", "scale": {"domain": [-2, 2], "nice": false, "zero": false}, "axis": null},
            "y": {"field": "y", "type": "quantitative", "scale": {"domain": [-7.9, 8], "nice": false, "zero": false}, "axis": null},
            "text": {"field": "t"}
          }
        },
        {
          "data": {"values": [{"x": 0, "y": 0}]},
          "mark": {"type": "point", "opacity": 0},
          "encoding": {
            "x": {"field": "x", "type": "quantitative", "scale": {"domain": [-2, 2], "nice": false, "zero": false}, "axis": {"orient": "bottom", "values": [-2, -1.5, -1, -0.5, 0, 0.5, 1, 1.5, 2], "labels": false, "title": null, "tickSize": -7}},
            "y": {"field": "y", "type": "quantitative", "scale": {"domain": [-7.9, 8], "nice": false, "zero": false}, "axis": {"orient": "left", "values": [-6, -3, 0, 3, 6], "labels": false, "title": null, "tickSize": -7}}
          }
        },
        {
          "data": {"values": [{"x": 0, "y": 0}]},
          "mark": {"type": "point", "opacity": 0},
          "encoding": {
            "x": {"field": "x", "type": "quantitative", "scale": {"domain": [-2, 2], "nice": false, "zero": false}, "axis": {"orient": "top", "values": [-2, -1.5, -1, -0.5, 0, 0.5, 1, 1.5, 2], "labels": false, "title": null, "tickSize": -7}},
            "y": {"field": "y", "type": "quantitative", "scale": {"domain": [-7.9, 8], "nice": false, "zero": false}, "axis": {"orient": "right", "values": [-6, -3, 0, 3, 6], "labels": false, "title": null, "tickSize": -7}}
          }
        },
        {
          "data": {"values": [{"x": 0, "y": 0}]},
          "mark": {"type": "point", "opacity": 0},
          "encoding": {
            "x": {"field": "x", "type": "quantitative", "scale": {"domain": [-2, 2], "nice": false, "zero": false}, "axis": {"orient": "bottom", "values": [-1.9, -1.8, -1.7, -1.6, -1.4, -1.3, -1.2, -1.1, -0.9, -0.8, -0.7, -0.6, -0.4, -0.3, -0.2, -0.1, 0.1, 0.2, 0.3, 0.4, 0.6, 0.7, 0.8, 0.9, 1.1, 1.2, 1.3, 1.4, 1.6, 1.7, 1.8, 1.9], "labels": false, "title": null, "tickSize": -3.5}},
            "y": {"field": "y", "type": "quantitative", "scale": {"domain": [-7.9, 8], "nice": false, "zero": false}, "axis": {"orient": "left", "values": [-7, -5, -4, -2, -1, 1, 2, 4, 5, 7], "labels": false, "title": null, "tickSize": -3.5}}
          }
        },
        {
          "data": {"values": [{"x": 0, "y": 0}]},
          "mark": {"type": "point", "opacity": 0},
          "encoding": {
            "x": {"field": "x", "type": "quantitative", "scale": {"domain": [-2, 2], "nice": false, "zero": false}, "axis": {"orient": "top", "values": [-1.9, -1.8, -1.7, -1.6, -1.4, -1.3, -1.2, -1.1, -0.9, -0.8, -0.7, -0.6, -0.4, -0.3, -0.2, -0.1, 0.1, 0.2, 0.3, 0.4, 0.6, 0.7, 0.8, 0.9, 1.1, 1.2, 1.3, 1.4, 1.6, 1.7, 1.8, 1.9], "labels": false, "title": null, "tickSize": -3.5}},
            "y": {"field": "y", "type": "quantitative", "scale": {"domain": [-7.9, 8], "nice": false, "zero": false}, "axis": {"orient": "right", "values": [-7, -5, -4, -2, -1, 1, 2, 4, 5, 7], "labels": false, "title": null, "tickSize": -3.5}}
          }
        }
      ],
      "resolve": {"axis": {"x": "independent", "y": "independent"}}
    },
    {
      "width": 381, "height": 212,
      "layer": [
        {
          "data": {"name": "bl"},
          "mark": {"type": "line", "clip": true, "strokeWidth": 2.5},
          "encoding": {
            "x": {"field": "x", "type": "quantitative", "scale": {"domain": [0, 2], "nice": false, "zero": false}, "axis": {"orient": "bottom", "title": "Time (ps)", "values": [0, 0.5, 1, 1.5, 2], "format": ".1f", "ticks": false, "labelPadding": 6, "titlePadding": 5}},
            "y": {"field": "y", "type": "quantitative", "scale": {"domain": [-0.05, 1.05], "nice": false, "zero": false}, "axis": {"orient": "left", "title": "Norm. MAD from equilibrium", "values": [0, 0.2, 0.4, 0.6, 0.8, 1.0], "format": ".1f", "ticks": false, "labelPadding": 6, "titlePadding": 15}},
            "color": {"field": "s", "type": "nominal", "sort": null, "scale": {"domain": ["3\u2009J/cm³", "Fit: τ = 1486.2\u2009fs", "32\u2009J/cm³", "Fit: τ = 349.5\u2009fs", "322\u2009J/cm³", "Fit: τ = 43.0\u2009fs"], "range": ["#ff0000", "#ff6347", "#008000", "#90ee90", "#0000ff", "#00bfff"]}, "legend": {"orient": "none", "legendX": 228.5, "legendY": 11.4, "title": null, "symbolType": "M-2,0H2", "symbolSize": 156, "symbolStrokeWidth": 2.5, "labelOffset": 14, "rowPadding": 3.7}},
            "strokeDash": {"field": "s", "type": "nominal", "sort": null, "scale": {"domain": ["3\u2009J/cm³", "Fit: τ = 1486.2\u2009fs", "32\u2009J/cm³", "Fit: τ = 349.5\u2009fs", "322\u2009J/cm³", "Fit: τ = 43.0\u2009fs"], "range": [[1, 0], [2.5, 3.5], [1, 0], [2.5, 3.5], [1, 0], [2.5, 3.5]]}, "legend": {"orient": "none", "legendX": 228.5, "legendY": 11.4, "title": null, "symbolType": "M-2,0H2", "symbolSize": 156, "symbolStrokeWidth": 2.5, "labelOffset": 14, "rowPadding": 3.7}}
          }
        },
        {
          "data": {"values": [{"x": 0, "y": 0}]},
          "mark": {"type": "point", "opacity": 0},
          "encoding": {
            "x": {"field": "x", "type": "quantitative", "scale": {"domain": [0, 2], "nice": false, "zero": false}, "axis": {"orient": "bottom", "values": [0, 0.5, 1, 1.5, 2], "labels": false, "title": null, "tickSize": -7}},
            "y": {"field": "y", "type": "quantitative", "scale": {"domain": [-0.05, 1.05], "nice": false, "zero": false}, "axis": {"orient": "left", "values": [0, 0.2, 0.4, 0.6, 0.8, 1.0], "labels": false, "title": null, "tickSize": -7}}
          }
        },
        {
          "data": {"values": [{"x": 0, "y": 0}]},
          "mark": {"type": "point", "opacity": 0},
          "encoding": {
            "x": {"field": "x", "type": "quantitative", "scale": {"domain": [0, 2], "nice": false, "zero": false}, "axis": {"orient": "top", "values": [0, 0.5, 1, 1.5, 2], "labels": false, "title": null, "tickSize": -7}},
            "y": {"field": "y", "type": "quantitative", "scale": {"domain": [-0.05, 1.05], "nice": false, "zero": false}, "axis": {"orient": "right", "values": [0, 0.2, 0.4, 0.6, 0.8, 1.0], "labels": false, "title": null, "tickSize": -7}}
          }
        },
        {
          "data": {"values": [{"x": 0, "y": 0}]},
          "mark": {"type": "point", "opacity": 0},
          "encoding": {
            "x": {"field": "x", "type": "quantitative", "scale": {"domain": [0, 2], "nice": false, "zero": false}, "axis": {"orient": "bottom", "values": [0.1, 0.2, 0.3, 0.4, 0.6, 0.7, 0.8, 0.9, 1.1, 1.2, 1.3, 1.4, 1.6, 1.7, 1.8, 1.9], "labels": false, "title": null, "tickSize": -3.5}},
            "y": {"field": "y", "type": "quantitative", "scale": {"domain": [-0.05, 1.05], "nice": false, "zero": false}, "axis": {"orient": "left", "values": [0.05, 0.1, 0.15, 0.25, 0.3, 0.35, 0.45, 0.5, 0.55, 0.65, 0.7, 0.75, 0.85, 0.9, 0.95], "labels": false, "title": null, "tickSize": -3.5}}
          }
        },
        {
          "data": {"values": [{"x": 0, "y": 0}]},
          "mark": {"type": "point", "opacity": 0},
          "encoding": {
            "x": {"field": "x", "type": "quantitative", "scale": {"domain": [0, 2], "nice": false, "zero": false}, "axis": {"orient": "top", "values": [0.1, 0.2, 0.3, 0.4, 0.6, 0.7, 0.8, 0.9, 1.1, 1.2, 1.3, 1.4, 1.6, 1.7, 1.8, 1.9], "labels": false, "title": null, "tickSize": -3.5}},
            "y": {"field": "y", "type": "quantitative", "scale": {"domain": [-0.05, 1.05], "nice": false, "zero": false}, "axis": {"orient": "right", "values": [0.05, 0.1, 0.15, 0.25, 0.3, 0.35, 0.45, 0.5, 0.55, 0.65, 0.7, 0.75, 0.85, 0.9, 0.95], "labels": false, "title": null, "tickSize": -3.5}}
          }
        }
      ],
      "resolve": {"axis": {"x": "independent", "y": "independent"}}
    },
    {
      "width": 381, "height": 212,
      "layer": [
        {
          "data": {"name": "br"},
          "mark": {"type": "line", "clip": true, "strokeWidth": 2.5},
          "encoding": {
            "x": {"field": "x", "type": "quantitative", "scale": {"domain": [0, 4], "nice": false, "zero": false}, "axis": {"orient": "bottom", "title": "Time (ps)", "values": [0, 0.5, 1, 1.5, 2, 2.5, 3, 3.5, 4], "format": ".1f", "ticks": false, "labelPadding": 6, "titlePadding": 5}},
            "y": {"field": "y", "type": "quantitative", "scale": {"domain": [-0.052, 1.097], "nice": false, "zero": false}, "axis": {"orient": "left", "title": "Norm. MAD from equilibrium", "values": [0, 0.2, 0.4, 0.6, 0.8, 1.0], "format": ".1f", "ticks": false, "labelPadding": 6, "titlePadding": 15}},
            "color": {"field": "s", "type": "nominal", "sort": null, "scale": {"domain": ["3\u2009J/cm³", "Fit: τ = 0.8\u2009ps", "32\u2009J/cm³", "Fit: τ = 0.9\u2009ps", "322\u2009J/cm³", "Fit: τ = 1.1\u2009ps"], "range": ["#ff0000", "#ff6347", "#008000", "#90ee90", "#0000ff", "#00bfff"]}, "legend": {"orient": "none", "legendX": 246.5, "legendY": 11.4, "title": null, "symbolType": "M-2,0H2", "symbolSize": 156, "symbolStrokeWidth": 2.5, "labelOffset": 14, "rowPadding": 3.7}},
            "strokeDash": {"field": "s", "type": "nominal", "sort": null, "scale": {"domain": ["3\u2009J/cm³", "Fit: τ = 0.8\u2009ps", "32\u2009J/cm³", "Fit: τ = 0.9\u2009ps", "322\u2009J/cm³", "Fit: τ = 1.1\u2009ps"], "range": [[1, 0], [2.5, 3.5], [1, 0], [2.5, 3.5], [1, 0], [2.5, 3.5]]}, "legend": {"orient": "none", "legendX": 246.5, "legendY": 11.4, "title": null, "symbolType": "M-2,0H2", "symbolSize": 156, "symbolStrokeWidth": 2.5, "labelOffset": 14, "rowPadding": 3.7}}
          }
        },
        {
          "data": {"values": [{"x": 0, "y": 0}]},
          "mark": {"type": "point", "opacity": 0},
          "encoding": {
            "x": {"field": "x", "type": "quantitative", "scale": {"domain": [0, 4], "nice": false, "zero": false}, "axis": {"orient": "bottom", "values": [0, 0.5, 1, 1.5, 2, 2.5, 3, 3.5, 4], "labels": false, "title": null, "tickSize": -7}},
            "y": {"field": "y", "type": "quantitative", "scale": {"domain": [-0.052, 1.097], "nice": false, "zero": false}, "axis": {"orient": "left", "values": [0, 0.2, 0.4, 0.6, 0.8, 1.0], "labels": false, "title": null, "tickSize": -7}}
          }
        },
        {
          "data": {"values": [{"x": 0, "y": 0}]},
          "mark": {"type": "point", "opacity": 0},
          "encoding": {
            "x": {"field": "x", "type": "quantitative", "scale": {"domain": [0, 4], "nice": false, "zero": false}, "axis": {"orient": "top", "values": [0, 0.5, 1, 1.5, 2, 2.5, 3, 3.5, 4], "labels": false, "title": null, "tickSize": -7}},
            "y": {"field": "y", "type": "quantitative", "scale": {"domain": [-0.052, 1.097], "nice": false, "zero": false}, "axis": {"orient": "right", "values": [0, 0.2, 0.4, 0.6, 0.8, 1.0], "labels": false, "title": null, "tickSize": -7}}
          }
        },
        {
          "data": {"values": [{"x": 0, "y": 0}]},
          "mark": {"type": "point", "opacity": 0},
          "encoding": {
            "x": {"field": "x", "type": "quantitative", "scale": {"domain": [0, 4], "nice": false, "zero": false}, "axis": {"orient": "bottom", "values": [0.1, 0.2, 0.3, 0.4, 0.6, 0.7, 0.8, 0.9, 1.1, 1.2, 1.3, 1.4, 1.6, 1.7, 1.8, 1.9, 2.1, 2.2, 2.3, 2.4, 2.6, 2.7, 2.8, 2.9, 3.1, 3.2, 3.3, 3.4, 3.6, 3.7, 3.8, 3.9], "labels": false, "title": null, "tickSize": -3.5}},
            "y": {"field": "y", "type": "quantitative", "scale": {"domain": [-0.052, 1.097], "nice": false, "zero": false}, "axis": {"orient": "left", "values": [0.05, 0.1, 0.15, 0.25, 0.3, 0.35, 0.45, 0.5, 0.55, 0.65, 0.7, 0.75, 0.85, 0.9, 0.95, 1.05], "labels": false, "title": null, "tickSize": -3.5}}
          }
        },
        {
          "data": {"values": [{"x": 0, "y": 0}]},
          "mark": {"type": "point", "opacity": 0},
          "encoding": {
            "x": {"field": "x", "type": "quantitative", "scale": {"domain": [0, 4], "nice": false, "zero": false}, "axis": {"orient": "top", "values": [0.1, 0.2, 0.3, 0.4, 0.6, 0.7, 0.8, 0.9, 1.1, 1.2, 1.3, 1.4, 1.6, 1.7, 1.8, 1.9, 2.1, 2.2, 2.3, 2.4, 2.6, 2.7, 2.8, 2.9, 3.1, 3.2, 3.3, 3.4, 3.6, 3.7, 3.8, 3.9], "labels": false, "title": null, "tickSize": -3.5}},
            "y": {"field": "y", "type": "quantitative", "scale": {"domain": [-0.052, 1.097], "nice": false, "zero": false}, "axis": {"orient": "right", "values": [0.05, 0.1, 0.15, 0.25, 0.3, 0.35, 0.45, 0.5, 0.55, 0.65, 0.7, 0.75, 0.85, 0.9, 0.95, 1.05], "labels": false, "title": null, "tickSize": -3.5}}
          }
        }
      ],
      "resolve": {"axis": {"x": "independent", "y": "independent"}}
    }
  ]
}
